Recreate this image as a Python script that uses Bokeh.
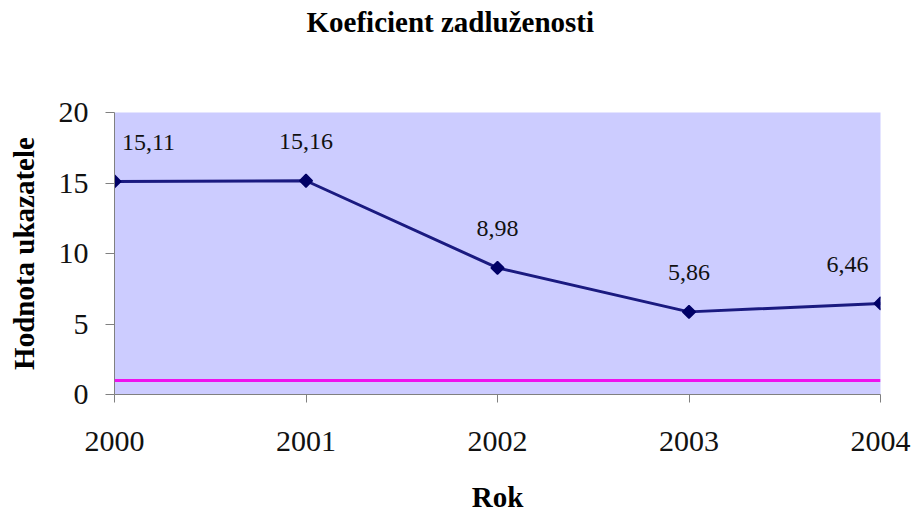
import math
from bokeh.plotting import figure
from bokeh.models import ColumnDataSource, LabelSet, Span, Range1d, FixedTicker, Title
from bokeh.embed import file_html
from bokeh.resources import INLINE

years = [2000, 2001, 2002, 2003, 2004]
values = [15.11, 15.16, 8.98, 5.86, 6.46]
value_labels = ["15,11", "15,16", "8,98", "5,86", "6,46"]
y_ticks = [0, 5, 10, 15, 20]
reference_level = 1
title_text = "Koeficient zadluženosti"

SERIF = "Liberation Serif"

n = len(years)
x_off = [34 if i == 0 else (-33 if i == n - 1 else 0) for i in range(n)]

src = ColumnDataSource(dict(x=years, y=values, lab=value_labels, xo=x_off))

p = figure(width=914, height=515, output_backend="svg", toolbar_location=None,
           x_range=Range1d(years[0], years[-1]), y_range=Range1d(y_ticks[0], y_ticks[-1]),
           min_border_left=114, min_border_right=34, min_border_top=112, min_border_bottom=121)
p.border_fill_color = "white"
p.outline_line_color = None
p.grid.visible = False
p.background_fill_color = "#CCCCFF"

p.add_layout(Span(location=reference_level, dimension="width", line_color="#EE11EE", line_width=3))

p.line("x", "y", source=src, line_color="#1A1A80", line_width=3)
p.scatter("x", "y", source=src, marker="square", angle=math.pi / 4, size=9,
          fill_color="#000066", line_color="#000066", line_width=1.5)

labels = LabelSet(x="x", y="y", text="lab", source=src, x_offset="xo", y_offset=39,
                  text_align="center", text_baseline="middle",
                  text_font=SERIF, text_font_size="24px", text_color="#111111")
p.add_layout(labels)

# spacer between the title and the plot area (closest to the frame)
spacer = Title(text=" ", standoff=60, text_font_size="10px", text_color="white")
p.add_layout(spacer, "above")
title = Title(text=title_text, align="left", offset=192, standoff=0, vertical_align="top",
              text_font=SERIF, text_font_size="29px", text_font_style="bold", text_color="black")
p.add_layout(title, "above")

p.xaxis.ticker = FixedTicker(ticks=years)
p.yaxis.ticker = FixedTicker(ticks=y_ticks)
for ax in (p.xaxis[0], p.yaxis[0]):
    ax.axis_line_color = "#808080"
    ax.major_tick_line_color = "#808080"
    ax.major_tick_in = 0
    ax.minor_tick_line_color = None
    ax.major_label_text_font = SERIF
    ax.major_label_text_font_size = "30px"
    ax.major_label_text_color = "#111111"
    ax.axis_label_text_font = SERIF
    ax.axis_label_text_font_style = "bold"
    ax.axis_label_text_color = "black"

p.xaxis.major_tick_out = 8
p.xaxis.major_label_standoff = 29
p.xaxis.axis_label = "Rok"
p.xaxis.axis_label_text_font_size = "29px"
p.xaxis.axis_label_standoff = 27

p.yaxis.major_tick_out = 9
p.yaxis.major_label_standoff = 17
p.yaxis.axis_label = "Hodnota ukazatele"
p.yaxis.axis_label_text_font_size = "29px"
p.yaxis.axis_label_standoff = 16

open("out.html", "w").write(file_html(p, INLINE))
